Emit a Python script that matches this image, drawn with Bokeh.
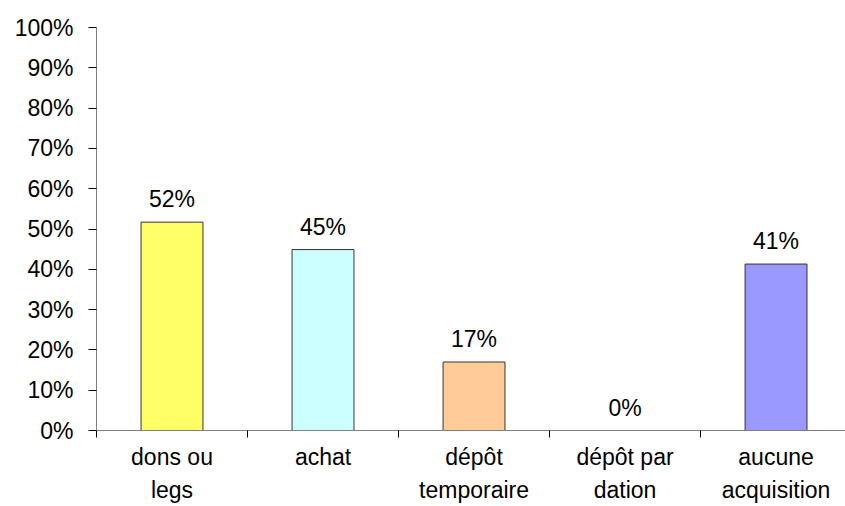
from bokeh.plotting import figure
from bokeh.models import Range1d, FixedTicker, ColumnDataSource
from bokeh.embed import file_html
from bokeh.resources import INLINE
from bokeh.core.properties import value

categories = ["dons ou\nlegs", "achat", "dépôt\ntemporaire", "dépôt par\ndation", "aucune\nacquisition"]
values = [51.7, 44.9, 17.0, 0.0, 41.3]
labels = ["52%", "45%", "17%", "0%", "41%"]
colors = ["#FFFF66", "#CCFFFF", "#FFCC99", "#FFFFFF", "#9999FF"]
y_ticks = [0, 10, 20, 30, 40, 50, 60, 70, 80, 90, 100]

FONT = "Liberation Sans"
FS = "23px"
xs = [i + 0.5 for i in range(len(categories))]

p = figure(width=845, height=506, output_backend="svg", toolbar_location=None,
           x_range=Range1d(0, 4.96), y_range=Range1d(0, 100),
           min_border_left=96, min_border_right=0, min_border_top=27, min_border_bottom=72)
p.outline_line_color = None
p.xgrid.visible = False
p.ygrid.visible = False

src = ColumnDataSource(dict(x=xs, top=values, label=labels, color=colors))
nz = ColumnDataSource(dict(x=[x for x, v in zip(xs, values) if v > 0],
                           top=[v for v in values if v > 0],
                           color=[c for c, v in zip(colors, values) if v > 0]))
p.vbar(x="x", top="top", width=0.41, bottom=0, source=nz, fill_color="color",
       line_color="#333333", line_width=1)
p.text(x="x", y="top", text="label", source=src, text_align="center",
       text_baseline="bottom", y_offset=-10, text_font=value(FONT),
       text_font_size=FS, text_color="black")

# y axis
p.yaxis.ticker = FixedTicker(ticks=y_ticks)
p.yaxis.major_label_overrides = {t: f"{t}%" for t in y_ticks}
p.yaxis.axis_line_color = "#808080"
p.yaxis.major_tick_line_color = "black"
p.yaxis.major_tick_out = 8
p.yaxis.major_tick_in = 0
p.yaxis.minor_tick_line_color = None
p.yaxis.major_label_text_font = FONT
p.yaxis.major_label_text_font_size = FS
p.yaxis.major_label_text_color = "black"
p.yaxis.major_label_standoff = 15

# x axis
p.xaxis.ticker = FixedTicker(ticks=xs, minor_ticks=[0, 1, 2, 3, 4, 5])
p.xaxis.major_label_overrides = {x: c for x, c in zip(xs, categories)}
p.xaxis.axis_line_color = "#808080"
p.xaxis.major_tick_line_color = None
p.xaxis.major_tick_out = 0
p.xaxis.major_tick_in = 0
p.xaxis.minor_tick_line_color = "black"
p.xaxis.minor_tick_out = 7
p.xaxis.minor_tick_in = 0
p.xaxis.major_label_text_font = FONT
p.xaxis.major_label_text_font_size = FS
p.xaxis.major_label_text_color = "black"
p.xaxis.major_label_text_line_height = 1.3
p.xaxis.major_label_standoff = 6

open("out.html", "w").write(file_html(p, INLINE))
